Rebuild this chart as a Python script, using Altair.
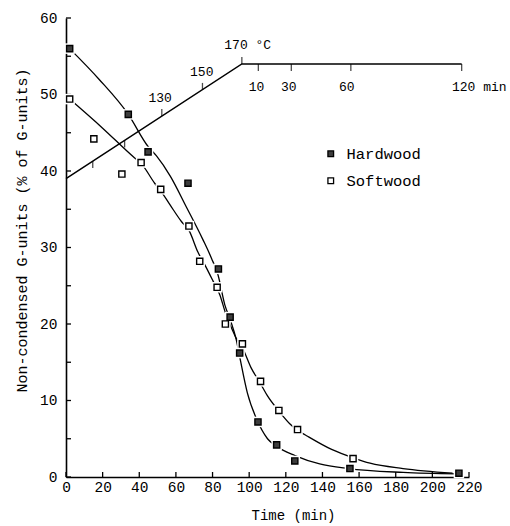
import altair as alt
import pandas as pd

# ---- data ----
hard_t = [2, 34, 44.8, 66.6, 83.2, 89.6, 94.8, 104.8, 115, 124.9, 155, 214.5]
hard_v = [56.0, 47.4, 42.5, 38.4, 27.2, 20.9, 16.2, 7.2, 4.2, 2.1, 1.1, 0.5]
soft_t = [2, 15.2, 30.5, 41, 51.7, 67.1, 73, 82.5, 87, 96.3, 106.2, 116.2, 126.4, 156.7]
soft_v = [49.4, 44.2, 39.6, 41.1, 37.6, 32.8, 28.2, 24.8, 20.0, 17.4, 12.5, 8.7, 6.2, 2.4]

hard_curve_t = [2, 18, 34, 44.8, 49.3, 57, 65.7, 74.8, 79.4, 83, 86.7, 89.6, 93, 95,
                99, 104, 110, 115, 125, 138.5, 154, 184, 214]
hard_curve_v = [56.0, 52.0, 47.4, 43.2, 42.0, 39.3, 35.3, 31.0, 28.6, 26.4, 22.5, 20.6, 17.9, 15.5,
                11.0, 7.6, 5.0, 4.0, 2.8, 1.7, 1.1, 0.6, 0.4]
soft_curve_t = [2, 20, 37.5, 41, 48.4, 52, 57, 63, 67.2, 72, 76.3, 80.3, 84, 87, 90.3, 93,
                96.3, 101, 106.2, 110, 116.3, 122, 126.4, 131.3, 145, 156.8, 166, 184, 211]
soft_curve_v = [49.4, 45.6, 41.7, 41.0, 38.4, 37.3, 35.5, 33.4, 32.2, 29.4, 27.5, 25.6, 23.8, 21.5,
                19.5, 18.1, 16.9, 14.3, 12.2, 10.6, 8.6, 7.0, 6.1, 5.4, 3.6, 2.5, 1.8, 1.1, 0.5]

temp_t = [0, 96, 216]
temp_v = [39.0, 54.0, 54.0]
tick_down_t = [14.6, 32, 105, 123, 155.5, 216]
tick_down_v = [41.3, 44.0, 54.0, 54.0, 54.0, 54.0]
tick_up_t = [52.3, 74.5, 96]
tick_up_v = [47.2, 50.6, 54.0]

ann_text = ["130", "150", "170 \u00b0C", "10", "30", "60"]
ann_t = [51.4, 74.1, 99.2, 104.0, 121.6, 153.3]
ann_v = [49.5, 52.9, 56.5, 51.0, 51.0, 51.0]
ann2_text = ["120 min"]
ann2_t = [210.7]
ann2_v = [51.0]

x_ticks = list(range(0, 221, 20))
y_ticks = list(range(0, 61, 5))
y_labels = list(range(0, 61, 10))

# ---- chart ----
W, H = 403, 459
FONT = "Liberation Mono"
xs = alt.Scale(domain=[0, 220], nice=False, zero=False)
ys = alt.Scale(domain=[0, 60], nice=False, zero=False)
xaxis = alt.Axis(values=x_ticks, title="Time (min)", ticks=False, tickSize=0, labelPadding=3,
                 labelOverlap=False, labelFlush=False,
                 grid=False, titleX=227, titleY=38, titleBaseline="middle", titleAlign="center",
                 labelFont=FONT, labelFontSize=14.5, labelColor="black", titleFont=FONT,
                 titleFontSize=14, titleFontWeight="normal", titleColor="black",
                 domainColor="black", domainWidth=1.6)
yaxis = alt.Axis(values=y_labels, title="Non-condensed G-units (% of G-units)", ticks=False,
                 tickSize=0, labelPadding=9, grid=False, titleX=-45, titleY=212,
                 labelOverlap=False, labelFlush=False,
                 titleBaseline="middle", titleAlign="center",
                 labelFont=FONT, labelFontSize=14.5, labelColor="black", titleFont=FONT,
                 titleFontSize=15, titleFontWeight="normal", titleColor="black",
                 domainColor="black", domainWidth=1.6)


def X():
    return alt.X("t:Q", scale=xs, axis=xaxis)


def Y():
    return alt.Y("v:Q", scale=ys, axis=yaxis)


pts = pd.DataFrame({
    "t": hard_t + soft_t,
    "v": hard_v + soft_v,
    "series": ["Hardwood"] * len(hard_t) + ["Softwood"] * len(soft_t),
})
curves = pd.DataFrame({
    "t": hard_curve_t + soft_curve_t,
    "v": hard_curve_v + soft_curve_v,
    "series": ["Hardwood"] * len(hard_curve_t) + ["Softwood"] * len(soft_curve_t),
})
temp = pd.DataFrame({"t": temp_t, "v": temp_v})
tdown = pd.DataFrame({"t": tick_down_t, "v": tick_down_v})
tup = pd.DataFrame({"t": tick_up_t, "v": tick_up_v})
ann = pd.DataFrame({"t": ann_t, "v": ann_v, "label": ann_text})
ann2 = pd.DataFrame({"t": ann2_t, "v": ann2_v, "label": ann2_text})
yt = pd.DataFrame({"v": y_ticks})
xt = pd.DataFrame({"t": x_ticks})

curve_layer = alt.Chart(curves).mark_line(
    color="black", strokeWidth=1.3, interpolate="monotone"
).encode(x=X(), y=Y(), detail="series:N")

temp_layer = alt.Chart(temp).mark_line(color="black", strokeWidth=1.5).encode(x=X(), y=Y())

down_layer = alt.Chart(tdown).mark_tick(
    orient="vertical", color="black", size=7, thickness=1.3, yOffset=3.5
).encode(x=X(), y=Y())
up_layer = alt.Chart(tup).mark_tick(
    orient="vertical", color="black", size=7, thickness=1.3, yOffset=-3.5
).encode(x=X(), y=Y())

halo = alt.Chart(pts).mark_point(
    shape="square", filled=True, size=110, color="white", opacity=1
).encode(x=X(), y=Y())

points = alt.Chart(pts).mark_point(
    shape="square", filled=True, size=38, stroke="black", strokeWidth=1.4, opacity=1
).encode(
    x=X(), y=Y(),
    fill=alt.Fill(
        "series:N",
        scale=alt.Scale(domain=["Hardwood", "Softwood"], range=["#3c3c3c", "white"]),
        legend=alt.Legend(
            orient="none", legendX=257, legendY=128, title=None, symbolType="square",
            symbolSize=32, symbolStrokeColor="black", symbolStrokeWidth=1.3,
            symbolOpacity=1, labelFont=FONT, labelFontSize=15.5, labelColor="black",
            rowPadding=10, labelOffset=8, padding=0,
        ),
    ),
)

ann_layer = alt.Chart(ann).mark_text(
    font=FONT, fontSize=13, color="black", align="center", baseline="middle"
).encode(x=X(), y=Y(), text="label:N")
ann2_layer = alt.Chart(ann2).mark_text(
    font=FONT, fontSize=13, color="black", align="left", baseline="middle"
).encode(x=X(), y=Y(), text="label:N")

ytick_layer = alt.Chart(yt).mark_rule(color="black", strokeWidth=1.3).encode(
    y=Y(), x=alt.value(0), x2=alt.value(5)
)
xtick_layer = alt.Chart(xt).mark_rule(color="black", strokeWidth=1.3).encode(
    x=X(), y=alt.value(H), y2=alt.value(H - 5)
)

chart = alt.layer(
    ytick_layer, xtick_layer, temp_layer, down_layer, up_layer, curve_layer, halo, points,
    ann_layer, ann2_layer,
).properties(
    width=W, height=H, autosize="none", background="white",
    padding={"left": 66, "top": 18, "right": 41, "bottom": 49},
).configure_view(strokeWidth=0)

chart.save("out.html", embed_options={"renderer": "svg", "actions": False})
